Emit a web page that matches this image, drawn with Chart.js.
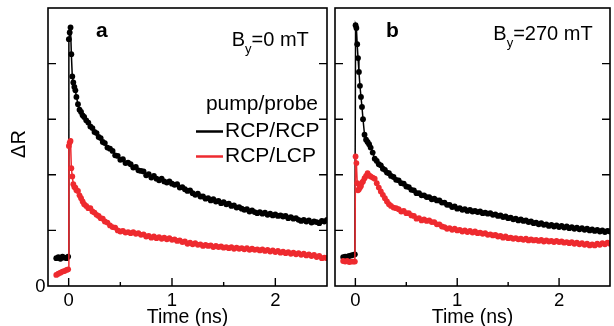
<!DOCTYPE html>
<html>
<head>
<meta charset="utf-8">
<script src="https://cdn.jsdelivr.net/npm/chart.js@4.4.1/dist/chart.umd.min.js"></script>
<style>
  html, body { margin: 0; padding: 0; background: #fff; }
  #wrap { position: relative; width: 614px; height: 326px; overflow: hidden; }
  canvas { position: absolute; top: 0; }
</style>
</head>
<body>
<div id="wrap">
  <canvas id="panelA" width="331" height="326" style="left:0;width:331px;height:326px"></canvas>
  <canvas id="panelB" width="283" height="326" style="left:331px;width:283px;height:326px"></canvas>
</div>
<script>
// time axis (ns), shared by both panels
const time = [
  -0.12, -0.10, -0.08, -0.06, -0.04, -0.02, -0.005,
  0.002, 0.01, 0.018, 0.026, 0.035, 0.045, 0.055, 0.065, 0.075, 0.09,
  0.105, 0.12, 0.135, 0.15, 0.17, 0.19, 0.21, 0.23, 0.25, 0.27,
  0.29, 0.31, 0.33, 0.35, 0.375, 0.4,
  0.425, 0.45, 0.475, 0.5, 0.525, 0.55, 0.575, 0.6, 0.625, 0.65, 0.675, 0.7,
  0.725, 0.75, 0.775, 0.8, 0.825, 0.85, 0.875, 0.9, 0.925, 0.95, 0.975, 1.0,
  1.025, 1.05, 1.075, 1.1, 1.125, 1.15, 1.175, 1.2, 1.225, 1.25, 1.275, 1.3,
  1.325, 1.35, 1.375, 1.4, 1.425, 1.45, 1.475, 1.5,
  1.525, 1.55, 1.575, 1.6, 1.625, 1.65, 1.675, 1.7, 1.725, 1.75, 1.775, 1.8,
  1.825, 1.85, 1.875, 1.9, 1.925, 1.95, 1.975, 2.0,
  2.025, 2.05, 2.075, 2.1, 2.125, 2.15, 2.175, 2.2, 2.225, 2.25, 2.275, 2.3,
  2.325, 2.35, 2.375, 2.4, 2.425, 2.45, 2.475, 2.5
];

// panel a, By = 0 mT
const rcpA = [
  0.50, 0.52, 0.49, 0.53, 0.51, 0.50, 0.53,
  4.44, 4.56, 4.65, 4.17, 3.77, 3.66, 3.58, 3.52, 3.40, 3.27,
  3.17, 3.13, 3.07, 3.04, 2.98, 2.94, 2.87, 2.84, 2.77, 2.75,
  2.68, 2.66, 2.59, 2.57, 2.49, 2.47,
  2.43, 2.35, 2.34, 2.27, 2.28, 2.21, 2.22, 2.19, 2.13, 2.14, 2.08, 2.07,
  2.06, 1.99, 2.01, 1.95, 1.98, 1.93, 1.90, 1.93, 1.88, 1.86, 1.88, 1.84,
  1.82, 1.83, 1.77, 1.78, 1.74, 1.71, 1.72, 1.67, 1.64, 1.66, 1.61, 1.61,
  1.57, 1.58, 1.54, 1.56, 1.52, 1.53, 1.49, 1.51,
  1.47, 1.48, 1.44, 1.45, 1.41, 1.42, 1.39, 1.37, 1.38, 1.34, 1.36, 1.33,
  1.31, 1.33, 1.30, 1.32, 1.28, 1.30, 1.27, 1.29,
  1.26, 1.27, 1.25, 1.26, 1.22, 1.24, 1.21, 1.22, 1.19, 1.17, 1.19, 1.16,
  1.18, 1.14, 1.16, 1.15, 1.13, 1.17, 1.16, 1.19
];
const lcpA = [
  0.20, 0.22, 0.24, 0.26, 0.27, 0.29, 0.30,
  2.52, 2.58, 2.61, 2.12, 1.97, 1.83, 1.78, 1.77, 1.72, 1.71,
  1.63, 1.58, 1.52, 1.47, 1.44, 1.40, 1.40, 1.34, 1.32, 1.28,
  1.26, 1.22, 1.21, 1.16, 1.14, 1.09,
  1.06, 1.05, 1.00, 0.98, 0.99, 0.96, 0.97, 0.95, 0.97, 0.94, 0.95, 0.92,
  0.93, 0.89, 0.90, 0.87, 0.89, 0.86, 0.88, 0.85, 0.87, 0.84, 0.86, 0.83,
  0.84, 0.81, 0.82, 0.79, 0.80, 0.76, 0.78, 0.75, 0.77, 0.74, 0.75, 0.72,
  0.74, 0.72, 0.73, 0.70, 0.72, 0.70, 0.71, 0.69,
  0.70, 0.68, 0.70, 0.67, 0.69, 0.67, 0.68, 0.66, 0.68, 0.65, 0.67, 0.65,
  0.66, 0.64, 0.66, 0.63, 0.65, 0.62, 0.64, 0.61,
  0.63, 0.60, 0.62, 0.59, 0.61, 0.58, 0.60, 0.57, 0.59, 0.56, 0.58, 0.55,
  0.57, 0.54, 0.56, 0.52, 0.54, 0.50, 0.51, 0.50
];

// panel b, By = 270 mT
const rcpB = [
  0.52, 0.53, 0.53, 0.54, 0.55, 0.56, 0.57,
  4.69, 4.64, 4.35, 4.10, 3.85, 3.60, 3.40, 3.22, 3.00, 2.72,
  2.63, 2.59, 2.55, 2.49, 2.40, 2.29, 2.25, 2.19, 2.17, 2.11,
  2.09, 2.04, 2.03, 1.98, 1.96, 1.91,
  1.90, 1.85, 1.84, 1.79, 1.78, 1.73, 1.72, 1.67, 1.67, 1.63, 1.63, 1.60,
  1.60, 1.56, 1.57, 1.54, 1.54, 1.50, 1.50, 1.46, 1.46, 1.42, 1.43, 1.39,
  1.40, 1.37, 1.38, 1.35, 1.37, 1.34, 1.35, 1.33, 1.34, 1.31, 1.32, 1.30,
  1.31, 1.28, 1.29, 1.26, 1.27, 1.24, 1.25, 1.22,
  1.23, 1.20, 1.21, 1.18, 1.20, 1.17, 1.18, 1.15, 1.16, 1.13, 1.14, 1.11,
  1.13, 1.10, 1.11, 1.08, 1.10, 1.07, 1.09, 1.06,
  1.08, 1.05, 1.07, 1.04, 1.06, 1.03, 1.05, 1.02, 1.04, 1.01, 1.03, 1.00,
  1.02, 0.99, 1.01, 0.98, 1.00, 0.97, 0.99, 0.98
];
const lcpB = [
  0.45, 0.44, 0.45, 0.43, 0.44, 0.44, 0.44,
  2.33, 2.21, 1.85, 1.72, 1.74, 1.77, 1.80, 1.86, 1.88, 1.94,
  1.98, 2.03, 1.99, 1.97, 1.95, 1.93, 1.85, 1.77, 1.70, 1.64,
  1.58, 1.52, 1.47, 1.44, 1.41, 1.40,
  1.38, 1.34, 1.35, 1.31, 1.31, 1.27, 1.26, 1.21, 1.22, 1.18, 1.20, 1.17,
  1.18, 1.15, 1.15, 1.11, 1.11, 1.07, 1.06, 1.03, 1.04, 1.01, 1.03, 1.00,
  1.01, 0.98, 1.00, 0.97, 0.99, 0.96, 0.98, 0.95, 0.96, 0.94, 0.95, 0.92,
  0.93, 0.91, 0.92, 0.89, 0.90, 0.87, 0.89, 0.86,
  0.87, 0.85, 0.86, 0.84, 0.85, 0.83, 0.85, 0.82, 0.84, 0.82, 0.83, 0.81,
  0.83, 0.80, 0.82, 0.80, 0.81, 0.79, 0.81, 0.79,
  0.80, 0.78, 0.79, 0.77, 0.79, 0.76, 0.78, 0.75, 0.77, 0.74, 0.76, 0.73,
  0.75, 0.73, 0.76, 0.74, 0.77, 0.75, 0.78, 0.76
];

const xMajor = [0, 1, 2];
const xMajorLabels = ["0", "1", "2"];
const xMinor = [0.5, 1.5];
const yTicks = [1, 2, 3, 4];

const BLACK = "#000000";
const RED = "#ee2a2f";
const FONT = '"Liberation Sans", Arial, Helvetica, sans-serif';

const framePlugin = {
  id: "frame",
  afterDraw(chart, args, opts) {
    const { ctx, chartArea: a, scales: { x, y } } = chart;
    ctx.save();
    ctx.strokeStyle = "#000";
    ctx.lineWidth = 1.6;
    ctx.strokeRect(a.left, a.top, a.right - a.left, a.bottom - a.top);
    ctx.lineWidth = 1.4;
    ctx.beginPath();
    yTicks.forEach((v) => {
      const py = y.getPixelForValue(v);
      ctx.moveTo(a.left, py); ctx.lineTo(a.left + 8, py);
      ctx.moveTo(a.right, py); ctx.lineTo(a.right - 8, py);
    });
    xMajor.forEach((v) => {
      const px = x.getPixelForValue(v);
      ctx.moveTo(px, a.bottom); ctx.lineTo(px, a.bottom - 8);
    });
    xMinor.forEach((v) => {
      const px = x.getPixelForValue(v);
      ctx.moveTo(px, a.bottom); ctx.lineTo(px, a.bottom - 4);
    });
    ctx.stroke();

    ctx.fillStyle = "#000";
    ctx.textBaseline = "alphabetic";
    ctx.font = "18.5px " + FONT;
    ctx.textAlign = "center";
    xMajor.forEach((v, i) => ctx.fillText(xMajorLabels[i], x.getPixelForValue(v), a.bottom + 20));
    ctx.font = "19.5px " + FONT;
    ctx.fillText("Time (ns)", (a.left + a.right) / 2, a.bottom + 36.5);

    if (opts.yLabels) {
      ctx.font = "18.5px " + FONT;
      ctx.textAlign = "right";
      ctx.fillText("0", a.left - 2.5, y.getPixelForValue(0) + 5.5);
      ctx.save();
      ctx.font = "20px " + FONT;
      ctx.translate(25, (a.top + a.bottom) / 2 - 3);
      ctx.rotate(-Math.PI / 2);
      ctx.textAlign = "center";
      ctx.fillText("ΔR", 0, 0);
      ctx.restore();
    }

    // panel letter
    ctx.textAlign = "left";
    ctx.font = "bold 21px " + FONT;
    ctx.fillText(opts.letter, opts.letterX, 37);

    // field label B_y = ...
    let bx = opts.fieldX;
    ctx.font = "20px " + FONT;
    ctx.fillText("B", bx, opts.fieldY);
    bx += ctx.measureText("B").width;
    ctx.font = "13px " + FONT;
    ctx.fillText("y", bx, opts.fieldY + 7);
    bx += ctx.measureText("y").width;
    ctx.font = "20px " + FONT;
    ctx.fillText(opts.field, bx, opts.fieldY);

    if (opts.legend) {
      ctx.font = "21px " + FONT;
      ctx.textAlign = "right";
      ctx.fillText("pump/probe", 318, 110);
      ctx.textAlign = "left";
      ctx.fillText("RCP/RCP", 225, 137);
      ctx.fillText("RCP/LCP", 225, 162);
      ctx.lineWidth = 2.5;
      ctx.strokeStyle = BLACK;
      ctx.beginPath(); ctx.moveTo(196, 131.5); ctx.lineTo(223, 131.5); ctx.stroke();
      ctx.strokeStyle = RED;
      ctx.beginPath(); ctx.moveTo(196, 156.5); ctx.lineTo(223, 156.5); ctx.stroke();
    }
    ctx.restore();
  }
};

function series(values, color) {
  return {
    data: time.map((t, i) => ({ x: t, y: values[i] })),
    borderColor: color,
    backgroundColor: color,
    borderWidth: 1.5,
    pointRadius: 2.9,
    pointBorderWidth: 0,
    pointBackgroundColor: color,
    tension: 0
  };
}

function makePanel(canvasId, black, red, padding, frameOpts) {
  new Chart(document.getElementById(canvasId), {
    type: "line",
    data: { datasets: [series(red, RED), series(black, BLACK)] },
    options: {
      responsive: false,
      animation: false,
      devicePixelRatio: 1,
      layout: { padding: padding },
      scales: {
        x: { type: "linear", min: -0.2, max: 2.5, display: false },
        y: { type: "linear", min: 0, max: 5, display: false }
      },
      plugins: {
        legend: { display: false },
        tooltip: { enabled: false },
        frame: frameOpts
      }
    },
    plugins: [framePlugin]
  });
}

makePanel("panelA", rcpA, lcpA, { left: 48, top: 8, right: 2, bottom: 40 },
  { letter: "a", letterX: 96, field: "=0 mT", fieldX: 231.7, fieldY: 46, yLabels: true, legend: true });
makePanel("panelB", rcpB, lcpB, { left: 4, top: 8, right: 1, bottom: 40 },
  { letter: "b", letterX: 55, field: "=270 mT", fieldX: 162.3, fieldY: 40, yLabels: false, legend: false });
</script>
</body>
</html>
